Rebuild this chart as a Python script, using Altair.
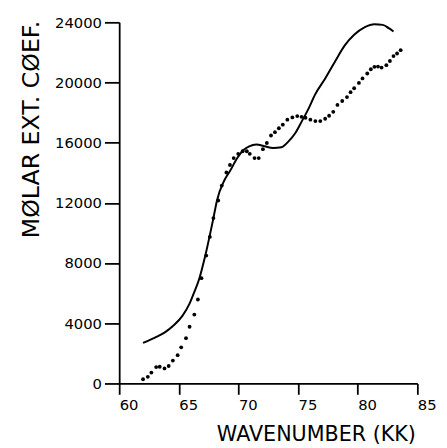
import altair as alt
import pandas as pd

# Solid (calculated) curve
line_x = [62.0, 63.0, 63.8, 64.6, 65.3, 65.9, 66.3, 66.7, 67.2, 67.9, 68.2, 68.8, 69.3,
          69.9, 70.4, 70.9, 71.5, 72.2, 72.9, 73.6, 74.2, 74.8, 75.3, 75.9, 76.4, 77.3,
          78.1, 78.9, 79.7, 80.6, 81.4, 82.1, 82.6, 83.0]
line_y = [2700, 3050, 3380, 3880, 4490, 5300, 6080, 6930, 8440, 10990, 12165, 13470, 14130,
          14980, 15500, 15760, 15880, 15760, 15650, 15700, 16090, 16680, 17400, 18300, 19160, 20300,
          21400, 22450, 23170, 23680, 23870, 23830, 23610, 23390]

# Dotted (measured) spectrum
dot_x = [62.0, 62.4, 62.7, 63.1, 63.4, 63.8, 64.15, 64.5, 64.9, 65.2, 65.6, 65.9, 66.3, 66.6,
         66.9, 67.3, 67.6, 67.9, 68.3, 68.6, 68.99, 69.29, 69.6, 69.98, 70.35, 70.7, 70.95,
         71.35, 71.7, 72.05, 72.38, 72.73, 73.06, 73.39, 73.72, 74.1, 74.52, 74.93, 75.29,
         75.62, 76.03, 76.45, 76.86, 77.27, 77.6, 77.95, 78.3, 78.7, 79.1, 79.4, 79.7, 80.1,
         80.4, 80.8, 81.1, 81.4, 81.7, 82.0, 82.4, 82.7, 83.0, 83.3, 83.6]
dot_y = [280, 440, 720, 1090, 1110, 1000, 1160, 1520, 1880, 2400, 3010, 3770, 4580, 5580,
         7000, 8500, 9740, 10990, 12160, 13150, 14020, 14520, 14980, 15260, 15430, 15430, 15260,
         14980, 14980, 15570, 15980, 16480, 16700, 16960, 17200, 17530, 17680, 17770, 17720,
         17660, 17530, 17440, 17440, 17590, 17790, 18050, 18510, 18770, 19030, 19360, 19620, 19970,
         20270, 20600, 20880, 21040, 21060, 20990, 21150, 21430, 21760, 21930, 22150]

x_ticks = [60, 65, 70, 75, 80, 85]
y_ticks = [0, 4000, 8000, 12000, 16000, 20000, 24000]

FONT = "DejaVu Sans"

line_df = pd.DataFrame({"x": line_x, "y": line_y})
dot_df = pd.DataFrame({"x": dot_x, "y": dot_y})

x_enc = alt.X(
    "x:Q",
    scale=alt.Scale(domain=[60, 85], nice=False, zero=False),
    axis=alt.Axis(
        values=x_ticks, grid=False, tickSize=11, tickWidth=1.8, domainWidth=1.8,
        domainColor="black", tickColor="black",
        labelAlign="left", labelBaseline="top", labelPadding=3, labelOffset=0,
        labelFont=FONT, labelFontSize=15, labelColor="black",
        title="WAVENUMBER (KK)", titleFont=FONT, titleFontSize=21, titleFontWeight="normal",
        titleColor="black", titleAlign="right", titleBaseline="alphabetic",
        titleX=301, titleY=58,
    ),
)
y_enc = alt.Y(
    "y:Q",
    scale=alt.Scale(domain=[0, 24000], nice=False),
    axis=alt.Axis(
        values=y_ticks, format="d", grid=False, tickSize=15, tickWidth=1.8, domainWidth=1.8,
        domainColor="black", tickColor="black", labelPadding=3,
        labelFont=FONT, labelFontSize=15, labelColor="black",
        title="MØLAR EXT. CØEF.", titleFont=FONT, titleFontSize=24, titleFontWeight="normal",
        titleColor="black", titleAngle=-90, titleAlign="right", titleBaseline="alphabetic",
        titleX=-82, titleY=-2,
    ),
)

line = alt.Chart(line_df).mark_line(color="black", strokeWidth=2, interpolate="monotone").encode(
    x=x_enc, y=y_enc
)
dots = alt.Chart(dot_df).mark_circle(color="black", size=15, opacity=1).encode(
    x="x:Q", y="y:Q"
)

chart = (
    alt.layer(line, dots)
    .properties(
        width=303, height=367,
        autosize=alt.AutoSizeParams(type="none"),
        padding={"left": 113, "top": 11, "right": 22, "bottom": 60},
        background="white",
    )
    .configure_view(stroke=None)
)

chart.save("out.html", embed_options={"renderer": "svg", "actions": False})
